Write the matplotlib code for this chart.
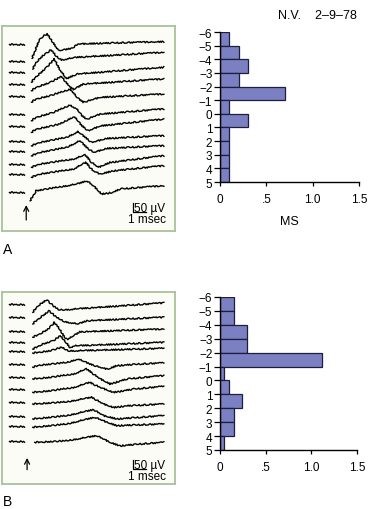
import matplotlib.pyplot as plt

plt.rcParams['font.family'] = ['Liberation Sans', 'DejaVu Sans']

# ---- panel A sweeps: keypoints
# time in msec after the stimulus, amplitude in uV from each sweep's own baseline
a_t = [
    [0.2, 0.7, 1.0, 1.35, 1.8, 2.25, 3.2, 3.7, 5.4, 10.25],
    [0.25, 0.5, 1.0, 1.65, 2.05, 2.45, 3.6, 10.25],
    [0.15, 0.45, 1.3, 1.9, 2.3, 2.8, 3.6, 10.25],
    [0.15, 0.5, 1.55, 2.45, 2.8, 3.35, 4.1, 10.25],
    [0.15, 0.5, 1.55, 3.15, 3.6, 4.1, 5.4, 10.25],
    [0.15, 0.5, 1.8, 3.1, 3.6, 4.0, 4.35, 5.4, 10.25],
    [0.15, 0.5, 2.3, 3.4, 4.0, 4.5, 5.4, 10.25],
    [0.15, 0.75, 2.8, 3.7, 4.25, 4.75, 5.9, 10.25],
    [0.15, 0.75, 2.8, 3.85, 4.35, 4.9, 5.9, 10.25],
    [0.15, 0.75, 3.35, 4.25, 4.75, 5.25, 6.15, 10.25],
    [0.15, 0.75, 3.35, 4.3, 4.85, 5.4, 6.4, 10.25],
    [0.05, 0.5, 3.6, 4.4, 5.0, 5.5, 6.4, 6.9, 10.25],
]
a_v = [
    [-79, 18, 42, 55, 9, -37, -24, 0, 4, 13],
    [-46, -9, 28, 60, 24, 5, 19, 46],
    [-58, -31, 24, 70, 15, -40, -13, 24],
    [-37, -18, 9, 42, 9, -31, 0, 28],
    [-36, -18, 0, 37, -9, -36, -9, 9],
    [-37, -18, 9, 50, 28, -9, -28, 0, 28],
    [-33, -15, 13, 55, 3, -24, 3, 40],
    [-28, -9, 19, 50, 19, -9, 13, 28],
    [-28, -9, 19, 55, 19, -9, 13, 28],
    [-18, 0, 28, 50, 9, -18, 9, 46],
    [-18, 0, 28, 64, 18, 0, 18, 46],
    [-50, 6, 42, 60, 24, -13, -3, 15, 33],
]
a_base_uv = [0, -92, -152, -220, -284, -385, -453, -532, -587, -660, -715, -812]

# ---- panel B sweeps
b_t = [
    [0.25, 0.65, 1.3, 1.8, 2.2, 2.8, 4.1, 10.25],
    [0.25, 0.5, 1.0, 1.5, 2.05, 2.7, 3.7, 4.4, 10.25],
    [0.25, 0.77, 1.4, 1.9, 2.3, 2.7, 2.95, 3.85, 10.25],
    [0.25, 1.0, 1.8, 2.35, 2.8, 3.1, 3.45, 10.25],
    [0.25, 1.55, 2.45, 2.95, 3.6, 10.25],
    [0.25, 0.77, 2.85, 3.7, 4.6, 5.65, 6.0, 6.65, 8.45, 10.25],
    [0.25, 1.55, 3.35, 4.35, 5.4, 6.15, 7.45, 10.25],
    [0.25, 1.55, 3.35, 4.6, 5.4, 6.4, 7.95, 10.25],
    [0.25, 2.8, 4.75, 5.65, 6.4, 7.45, 10.25],
    [0.25, 2.8, 4.9, 5.65, 6.65, 8.45, 10.25],
    [0.25, 2.8, 5.0, 5.9, 6.65, 10.25],
    [0.4, 2.8, 5.15, 6.15, 6.9, 8.45, 10.25],
]
b_v = [
    [-46, -9, 24, -9, -31, -31, -24, 6],
    [-37, -19, 9, 36, 0, -24, -37, -19, 0],
    [-36, -18, 9, 46, 9, -36, -46, -6, 9],
    [-37, -9, 9, 36, 0, -28, -19, 0],
    [-13, 0, 19, 0, 0, 13],
    [-18, -6, 9, 28, 0, -24, -28, -9, 0, 6],
    [-9, 0, 18, 46, -9, -37, -9, 9],
    [-18, -9, 9, 37, 9, -18, 0, 15],
    [-9, 3, 28, -9, -28, -19, -9],
    [-18, 0, 33, 0, -18, -9, 0],
    [-9, 9, 46, 19, 0, 9],
    [-9, 0, 28, -9, -28, -18, -9],
]
b_base_uv = [0, -73, -147, -211, -257, -330, -403, -468, -541, -614, -669, -752]

pre_t = [-1.55, -0.4]          # pre-stimulus segment of every sweep

# ---- latency histograms
bin_edges = list(range(-6, 6))
a_ms = [0.1, 0.2, 0.3, 0.2, 0.7, 0.1, 0.3, 0.1, 0.1, 0.1, 0.1]
b_ms = [0.15, 0.15, 0.3, 0.3, 1.12, 0.04, 0.1, 0.24, 0.15, 0.15, 0.04]

W, H = 368, 510
fig = plt.figure(figsize=(W / 100, H / 100), dpi=100)


def px_axes(x0, y0, x1, y1):
    return fig.add_axes([x0 / W, 1 - y1 / H, (x1 - x0) / W, (y1 - y0) / H])


def noisy(line):
    # wobble the drawn path a little so the sweeps look like raw recordings
    line.set_sketch_params(0.7, 0.8, 4)


def sweep_panel(ax, ts, vs, bases, ylim):
    ax.set_facecolor('#fbfcf6')
    for s in ax.spines.values():
        s.set_color('#a9c29b')
        s.set_linewidth(1.3)
    ax.set_xticks([])
    ax.set_yticks([])
    for t, v, b in zip(ts, vs, bases):
        l1, = ax.plot(pre_t, [b, b], color='black', lw=1.0)
        l2, = ax.plot(t, [b + x for x in v], color='black', lw=1.0)
        noisy(l1)
        noisy(l2)
    ax.set_xlim(-2.1, 11.1)
    ax.set_ylim(*ylim)


def scale_bar(ax, fx, fy):
    x0, x1 = ax.get_xlim()
    y0, y1 = ax.get_ylim()
    bx = x0 + fx * (x1 - x0)
    by = y0 + fy * (y1 - y0)
    ax.plot([bx, bx, bx + 1.0], [by + 50, by, by], color='black', lw=0.9)
    ax.text(bx + 0.12, by + 22, '50 µV', fontsize=8.5, va='center', ha='left')
    ax.text(bx + 1.05, by - 8, '1 msec', fontsize=8.5, va='top', ha='center')


def hist_panel(ax, vals):
    centres = [e + 0.5 for e in bin_edges[:-1]]
    ax.barh(centres, vals, height=1.0, color='#7b80c2', edgecolor='#1d1f3f',
            linewidth=0.9)
    ax.set_ylim(5, -6)
    ax.set_xlim(0, 1.5)
    ax.set_yticks(bin_edges)
    ax.set_yticklabels(['−%d' % -e if e < 0 else str(e) for e in bin_edges])
    ax.set_xticks([0, 0.5, 1.0, 1.5])
    ax.set_xticklabels(['0', '.5', '1.0', '1.5'])
    for s in ('top', 'right'):
        ax.spines[s].set_visible(False)
    for s in ('left', 'bottom'):
        ax.spines[s].set_linewidth(1.0)
    ax.tick_params(axis='y', length=4, width=0.9, pad=1.5, labelsize=8.5)
    ax.tick_params(axis='x', length=3, width=0.9, pad=5, labelsize=8.5)
    ax.set_facecolor('none')


arrow_style = dict(arrowstyle='->,head_length=0.35,head_width=0.18',
                   color='black', lw=0.9)

# panel A
axA = px_axes(2, 27, 175, 232)
sweep_panel(axA, a_t, a_v, a_base_uv, (-1028, 99))
scale_bar(axA, 0.756, 0.093)
axA.annotate('', xy=(0.14, 0.14), xytext=(0.14, 0.04), xycoords='axes fraction',
             arrowprops=arrow_style)

hA = px_axes(220, 33, 359, 183)
hist_panel(hA, a_ms)
hA.set_xlabel('MS', fontsize=9, labelpad=7)

# panel B
axB = px_axes(2, 293, 175, 485)
sweep_panel(axB, b_t, b_v, b_base_uv, (-990, 66))
scale_bar(axB, 0.756, 0.078)
axB.annotate('', xy=(0.145, 0.15), xytext=(0.145, 0.06), xycoords='axes fraction',
             arrowprops=arrow_style)

hB = px_axes(220, 298, 357, 451)
hist_panel(hB, b_ms)

fig.text(357 / W, 1 - 16 / H, 'N.V.    2–9–78', fontsize=9, ha='right', va='center')
fig.text(3 / W, 1 - 250 / H, 'A', fontsize=10, ha='left', va='center')
fig.text(3 / W, 1 - 502 / H, 'B', fontsize=10, ha='left', va='center')

fig.savefig('out.png', dpi=100)
